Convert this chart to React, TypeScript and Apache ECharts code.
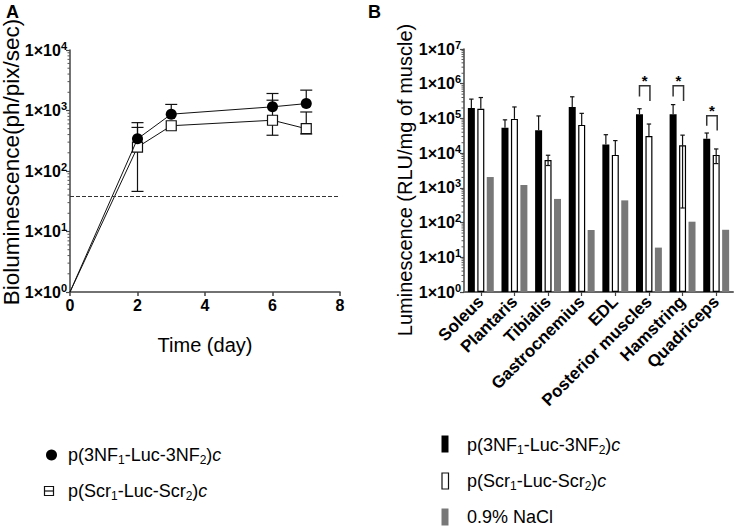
import React, { useEffect, useRef } from "react";
import * as echarts from "echarts";

// ---------- Panel A data ----------
const days = [0, 2, 3, 6, 7];
const nfMean = [1, 340, 870, 1150, 1300];
const nfHigh = [1, 630, 1260, 1910, 2170];
const nfLow = [1, 340, 870, 1150, 1300];
const scrMean = [1, 248, 560, 690, 500];
const scrHigh = [1, 525, 560, 1480, 945];
const scrLow = [1, 46, 560, 390, 410];
const thresholdA = 38;

// ---------- Panel B data ----------
const muscles = [
  "Soleus",
  "Plantaris",
  "Tibialis",
  "Gastrocnemius",
  "EDL",
  "Posterior muscles",
  "Hamstring",
  "Quadriceps",
];
const nfBars = [2.0e5, 5.4e4, 4.6e4, 2.14e5, 1.76e4, 1.32e5, 1.32e5, 2.6e4];
const nfBarsHigh = [3.6e5, 9.1e4, 1.18e5, 4.2e5, 3.4e4, 1.9e5, 2.5e5, 3.8e4];
const scrBars = [1.9e5, 9.7e4, 6.3e3, 6.5e4, 8.9e3, 3.1e4, 1.68e4, 8.9e3];
const scrBarsHigh = [4.0e5, 2.14e5, 8.7e3, 1.4e5, 2.3e4, 6.9e4, 3.3e4, 1.32e4];
const scrBarsLow: (number | null)[] = [null, null, 4.4e3, null, null, null, 263, 5.0e3];
const naclBars = [2050, 1210, 480, 61, 436, 19, 106, 62];

const bracketCats = [5, 6, 7];
const bracketTop = [8.8e5, 8.8e5, 1.2e5];
const bracketLeft = [4.3e5, 4.3e5, 6.2e4];
const bracketRight = [3.2e5, 3.2e5, 4.5e4];

// ---------- log-axis minor tick marks ----------
const minorMultipliers = [2, 3, 4, 5, 6, 7, 8, 9];
const decadesA = [1, 10, 100, 1000];
const decadesB = [1, 10, 100, 1000, 1e4, 1e5, 1e6];

const FONT = "Liberation Sans, Arial, Helvetica, sans-serif";
const BAR_W = 7;
const BAR_GAP = 0.35;
const BAR_OFF = BAR_W + BAR_W * BAR_GAP;

const supRich = {
  b: { fontSize: 16, fontWeight: "bold", fontFamily: FONT, color: "#000", lineHeight: 20 },
  s: { fontSize: 11, fontWeight: "bold", fontFamily: FONT, color: "#000", lineHeight: 11, verticalAlign: "top" },
};
const logLabel = (v: number) => `{b|1×10}{s|${Math.round(Math.log10(v))}}`;

const legRich = {
  n: { fontSize: 18, fontFamily: FONT, color: "#000", lineHeight: 22 },
  s: { fontSize: 12, fontFamily: FONT, color: "#000", lineHeight: 12, verticalAlign: "bottom" },
  i: { fontSize: 18, fontFamily: FONT, color: "#000", fontStyle: "italic", lineHeight: 22 },
};

function errorA(params: any, api: any) {
  const x = api.value(0);
  const m = api.value(1);
  const hi = api.value(2);
  const lo = api.value(3);
  const pm = api.coord([x, m]);
  const half = 6;
  const st = { stroke: "#111", lineWidth: 1.2 };
  const ch: any[] = [];
  if (hi > m) {
    const ph = api.coord([x, hi]);
    ch.push({ type: "line", shape: { x1: pm[0], y1: pm[1], x2: ph[0], y2: ph[1] }, style: st });
    ch.push({ type: "line", shape: { x1: ph[0] - half, y1: ph[1], x2: ph[0] + half, y2: ph[1] }, style: st });
  }
  if (lo < m) {
    const pl = api.coord([x, lo]);
    ch.push({ type: "line", shape: { x1: pm[0], y1: pm[1], x2: pl[0], y2: pl[1] }, style: st });
    ch.push({ type: "line", shape: { x1: pl[0] - half, y1: pl[1], x2: pl[0] + half, y2: pl[1] }, style: st });
  }
  return { type: "group", children: ch };
}

function errorB(offset: number) {
  return (params: any, api: any) => {
    const c = api.value(0);
    const m = api.value(1);
    const hi = api.value(2);
    const lo = api.value(3);
    const pm = api.coord([c, m]);
    const x = pm[0] + offset;
    const half = 2.2;
    const st = { stroke: "#111", lineWidth: 1.2 };
    const ch: any[] = [];
    if (hi > m) {
      const ph = api.coord([c, hi]);
      ch.push({ type: "line", shape: { x1: x, y1: pm[1], x2: x, y2: ph[1] }, style: st });
      ch.push({ type: "line", shape: { x1: x - half, y1: ph[1], x2: x + half, y2: ph[1] }, style: st });
    }
    if (lo < m) {
      const pl = api.coord([c, lo]);
      ch.push({ type: "line", shape: { x1: x, y1: pm[1], x2: x, y2: pl[1] }, style: st });
      ch.push({ type: "line", shape: { x1: x - half, y1: pl[1], x2: x + half, y2: pl[1] }, style: st });
    }
    return { type: "group", children: ch };
  };
}

function bracketB(params: any, api: any) {
  const c = api.value(0);
  const top = api.coord([c, api.value(1)]);
  const l = api.coord([c, api.value(2)]);
  const r = api.coord([c, api.value(3)]);
  const xl = top[0] - BAR_OFF;
  const xr = top[0] + 1;
  const st = { stroke: "#333", lineWidth: 1.5 };
  return {
    type: "group",
    children: [
      { type: "polyline", shape: { points: [[xl, l[1]], [xl, top[1]], [xr, top[1]], [xr, r[1]]] }, style: { ...st, fill: null } },
      {
        type: "text",
        x: (xl + xr) / 2,
        y: top[1] - 5,
        style: { text: "*", fontSize: 15, fontWeight: "bold", fontFamily: FONT, fill: "#000", align: "center", verticalAlign: "middle" },
      },
    ],
  };
}

function minorTick(params: any, api: any) {
  const y = api.coord([api.value(0), api.value(1)])[1];
  const x = params.coordSys.x;
  return {
    type: "line",
    shape: { x1: x - 2.5, y1: y, x2: x, y2: y },
    style: { stroke: "#555", lineWidth: 1 },
  };
}

const minorData = (decades: number[], x0: number) =>
  decades.flatMap((d) => minorMultipliers.map((m) => [x0, m * d]));

export default function App() {
  const ref = useRef<HTMLDivElement>(null);
  useEffect(() => {
    if (!ref.current) return;
    const chart = echarts.init(ref.current, null, { renderer: "svg" });

    const axisLineA = { show: true, lineStyle: { color: "#444", width: 1.5 } };

    const option: any = {
      animation: false,
      backgroundColor: "#fff",
      textStyle: { fontFamily: FONT },
      grid: [
        { left: 70, top: 50, width: 270, height: 242 },
        { left: 464, top: 49, width: 269, height: 243 },
      ],
      xAxis: [
        {
          type: "value",
          gridIndex: 0,
          min: 0,
          max: 8,
          interval: 2,
          axisLine: axisLineA,
          axisTick: { show: true, length: 4, lineStyle: { color: "#444", width: 1.5 } },
          splitLine: { show: false },
          axisLabel: { fontSize: 16, fontWeight: "bold", color: "#000", fontFamily: FONT, margin: 5 },
          name: "Time (day)",
          nameLocation: "middle",
          nameGap: 43,
          nameTextStyle: { fontSize: 20, color: "#000", fontFamily: FONT },
        },
        {
          type: "category",
          gridIndex: 1,
          data: muscles,
          boundaryGap: true,
          axisLine: { show: true, lineStyle: { color: "#666", width: 2 } },
          axisTick: { show: true, alignWithLabel: true, length: 4, lineStyle: { color: "#444", width: 1.2 } },
          axisLabel: {
            interval: 0,
            rotate: 45,
            fontSize: 17,
            fontWeight: "bold",
            color: "#000",
            fontFamily: FONT,
            margin: 7,
            hideOverlap: false,
          },
        },
      ],
      yAxis: [
        {
          type: "log",
          gridIndex: 0,
          logBase: 10,
          min: 1,
          max: 1e4,
          axisLine: axisLineA,
          axisTick: { show: true, length: 4, lineStyle: { color: "#444", width: 1.2 } },
          splitLine: { show: false },
          axisLabel: { formatter: logLabel, rich: supRich, margin: 3 },
        },
        {
          type: "log",
          gridIndex: 1,
          logBase: 10,
          min: 1,
          max: 1e7,
          axisLine: axisLineA,
          axisTick: { show: true, length: 4, lineStyle: { color: "#444", width: 1.2 } },
          splitLine: { show: false },
          axisLabel: { formatter: logLabel, rich: supRich, margin: 3 },
        },
      ],
      series: [
        {
          type: "custom",
          xAxisIndex: 0,
          yAxisIndex: 0,
          z: 1,
          clip: false,
          silent: true,
          renderItem: minorTick,
          encode: { x: 0, y: 1 },
          data: minorData(decadesA, 0),
        },
        {
          type: "custom",
          xAxisIndex: 1,
          yAxisIndex: 1,
          z: 1,
          clip: false,
          silent: true,
          renderItem: minorTick,
          encode: { x: 0, y: 1 },
          data: minorData(decadesB, 0),
        },
        {
          type: "custom",
          xAxisIndex: 0,
          yAxisIndex: 0,
          z: 2,
          renderItem: errorA,
          encode: { x: 0, y: 1 },
          data: days.slice(1).map((d, k) => [d, scrMean[k + 1], scrHigh[k + 1], scrLow[k + 1]]),
        },
        {
          type: "custom",
          xAxisIndex: 0,
          yAxisIndex: 0,
          z: 2,
          renderItem: errorA,
          encode: { x: 0, y: 1 },
          data: days.slice(1).map((d, k) => [d, nfMean[k + 1], nfHigh[k + 1], nfLow[k + 1]]),
        },
        {
          name: "p(Scr1-Luc-Scr2)c",
          type: "line",
          xAxisIndex: 0,
          yAxisIndex: 0,
          z: 3,
          symbol: "rect",
          symbolSize: 10,
          lineStyle: { color: "#111", width: 1 },
          itemStyle: { color: "#fff", borderColor: "#111", borderWidth: 1.2 },
          data: days.map((d, i) => (i === 0 ? { value: [d, scrMean[i]], symbol: "none" } : [d, scrMean[i]])),
        },
        {
          name: "p(3NF1-Luc-3NF2)c",
          type: "line",
          xAxisIndex: 0,
          yAxisIndex: 0,
          z: 4,
          symbol: "circle",
          symbolSize: 11,
          lineStyle: { color: "#111", width: 1 },
          itemStyle: { color: "#000" },
          data: days.map((d, i) => (i === 0 ? { value: [d, nfMean[i]], symbol: "none" } : [d, nfMean[i]])),
          markLine: {
            silent: true,
            symbol: ["none", "none"],
            label: { show: false },
            lineStyle: { type: [4, 2], color: "#333", width: 1 },
            data: [{ yAxis: thresholdA }],
          },
        },
        {
          name: "p(3NF1-Luc-3NF2)c bars",
          type: "bar",
          xAxisIndex: 1,
          yAxisIndex: 1,
          barWidth: BAR_W,
          barGap: `${BAR_GAP * 100}%`,
          itemStyle: { color: "#000" },
          data: nfBars,
        },
        {
          name: "p(Scr1-Luc-Scr2)c bars",
          type: "bar",
          xAxisIndex: 1,
          yAxisIndex: 1,
          barWidth: BAR_W,
          barGap: `${BAR_GAP * 100}%`,
          itemStyle: { color: "#fff", borderColor: "#000", borderWidth: 1.2 },
          data: scrBars,
        },
        {
          name: "0.9% NaCl",
          type: "bar",
          xAxisIndex: 1,
          yAxisIndex: 1,
          barWidth: BAR_W,
          barGap: `${BAR_GAP * 100}%`,
          itemStyle: { color: "#787878" },
          data: naclBars,
        },
        {
          type: "custom",
          xAxisIndex: 1,
          yAxisIndex: 1,
          z: 5,
          renderItem: errorB(-BAR_OFF),
          encode: { x: 0, y: 1 },
          data: muscles.map((_, i) => [i, nfBars[i], nfBarsHigh[i], nfBars[i]]),
        },
        {
          type: "custom",
          xAxisIndex: 1,
          yAxisIndex: 1,
          z: 5,
          renderItem: errorB(0),
          encode: { x: 0, y: 1 },
          data: muscles.map((_, i) => [i, scrBars[i], scrBarsHigh[i], scrBarsLow[i] ?? scrBars[i]]),
        },
        {
          type: "custom",
          xAxisIndex: 1,
          yAxisIndex: 1,
          z: 5,
          renderItem: bracketB,
          encode: { x: 0, y: 1 },
          data: bracketCats.map((c, k) => [c, bracketTop[k], bracketLeft[k], bracketRight[k]]),
        },
      ],
      graphic: [
        { type: "text", x: 6, y: 3, style: { text: "A", fontSize: 18, fontWeight: "bold", fontFamily: FONT, fill: "#000" } },
        { type: "text", x: 368, y: 3, style: { text: "B", fontSize: 18, fontWeight: "bold", fontFamily: FONT, fill: "#000" } },
        {
          type: "text",
          x: 11,
          y: 162,
          rotation: Math.PI / 2,
          style: {
            text: "Bioluminescence(ph/pix/sec)",
            fontSize: 22.5,
            fontFamily: FONT,
            fill: "#000",
            align: "center",
            verticalAlign: "middle",
          },
        },
        {
          type: "text",
          x: 405,
          y: 180,
          rotation: Math.PI / 2,
          style: {
            text: "Luminescence (RLU/mg of muscle)",
            fontSize: 20,
            fontFamily: FONT,
            fill: "#000",
            align: "center",
            verticalAlign: "middle",
          },
        },
        // Legend A
        { type: "circle", shape: { cx: 51.5, cy: 455, r: 5.5 }, style: { fill: "#000" } },
        {
          type: "text",
          x: 68,
          y: 455,
          style: { text: "{n|p(3NF}{s|1}{n|-Luc-3NF}{s|2}{n|)}{i|c}", rich: legRich, verticalAlign: "middle" },
        },
        { type: "rect", shape: { x: 44.5, y: 486.5, width: 9, height: 9 }, style: { fill: "#fff", stroke: "#111", lineWidth: 1.2 } },
        { type: "line", shape: { x1: 44.5, y1: 491, x2: 53.5, y2: 491 }, style: { stroke: "#111", lineWidth: 1.2 } },
        {
          type: "text",
          x: 68,
          y: 491,
          style: { text: "{n|p(Scr}{s|1}{n|-Luc-Scr}{s|2}{n|)}{i|c}", rich: legRich, verticalAlign: "middle" },
        },
        // Legend B
        { type: "rect", shape: { x: 441.5, y: 435.5, width: 7, height: 17 }, style: { fill: "#000" } },
        {
          type: "text",
          x: 467,
          y: 445,
          style: { text: "{n|p(3NF}{s|1}{n|-Luc-3NF}{s|2}{n|)}{i|c}", rich: legRich, verticalAlign: "middle" },
        },
        { type: "rect", shape: { x: 442, y: 473, width: 6.5, height: 16 }, style: { fill: "#fff", stroke: "#111", lineWidth: 1.2 } },
        {
          type: "text",
          x: 467,
          y: 481,
          style: { text: "{n|p(Scr}{s|1}{n|-Luc-Scr}{s|2}{n|)}{i|c}", rich: legRich, verticalAlign: "middle" },
        },
        { type: "rect", shape: { x: 441.5, y: 508.5, width: 7, height: 17 }, style: { fill: "#787878" } },
        {
          type: "text",
          x: 467,
          y: 517,
          style: { text: "0.9% NaCl", fontSize: 18, fontFamily: FONT, fill: "#000", verticalAlign: "middle" },
        },
      ],
    };

    chart.setOption(option);
    return () => chart.dispose();
  }, []);

  return (
    <div
      ref={ref}
      style={{ position: "fixed", left: 0, top: 0, width: 735, height: 526, background: "#fff" }}
    />
  );
}
